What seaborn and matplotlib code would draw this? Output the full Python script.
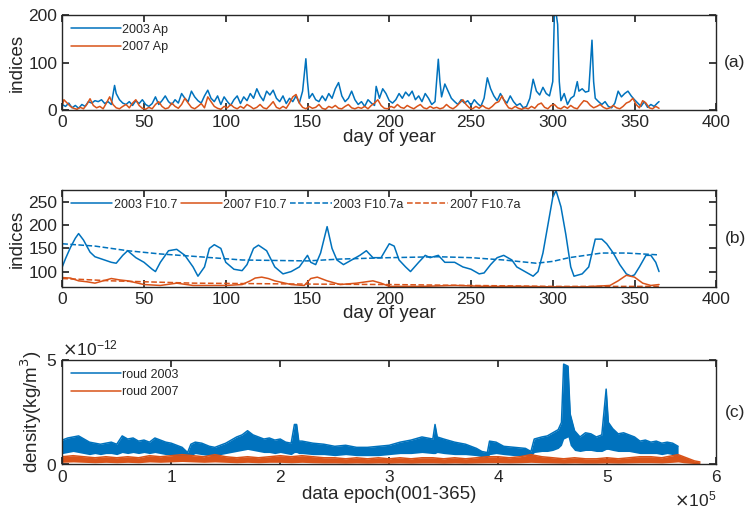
import matplotlib
matplotlib.use("Agg")
import matplotlib.pyplot as plt
import matplotlib.ticker as mticker
import numpy as np
import seaborn as sns

# ============================================================
# DATA
# ============================================================

# (a) daily Ap index
ap03_day = [0, 2, 4, 6, 8, 10, 12, 14, 16, 18, 20, 22, 24, 26, 28, 30, 32, 33, 35, 37, 39, 41, 43, 45,
            47, 49, 51, 53, 55, 57, 59, 61, 63, 65, 67, 69, 71, 73, 75, 77, 79, 81, 83, 85, 87, 89, 91,
            93, 95, 97, 99, 101, 103, 105, 107, 109, 111, 113, 115, 117, 119, 121, 123, 125, 127, 129,
            131, 133, 135, 137, 139, 141, 143, 145, 147, 149, 150, 151, 153, 155, 157, 159, 161, 163,
            165, 167, 169, 171, 173, 175, 177, 179, 181, 183, 185, 187, 189, 191, 192, 194, 196, 198,
            200, 202, 204, 206, 208, 210, 212, 214, 216, 218, 220, 222, 224, 226, 228, 230, 231, 232,
            234, 236, 238, 240, 242, 244, 246, 248, 250, 252, 254, 256, 258, 260, 262, 264, 266, 268,
            270, 272, 274, 276, 278, 280, 282, 284, 286, 288, 290, 292, 294, 296, 298, 300, 301, 302,
            303, 304, 305, 307, 309, 311, 313, 315, 316, 318, 320, 322, 324, 325, 326, 328, 330, 332,
            334, 336, 338, 340, 342, 344, 346, 348, 350, 352, 354, 356, 358, 360, 362, 364, 365]
ap03 = [12, 8, 15, 5, 10, 4, 12, 8, 18, 15, 20, 18, 22, 14, 18, 12, 52, 35, 22, 15, 12, 18, 10, 20,
        14, 22, 12, 8, 14, 28, 12, 20, 30, 18, 12, 22, 15, 35, 25, 18, 40, 28, 20, 15, 30, 42, 25,
        18, 30, 12, 28, 18, 10, 22, 30, 14, 28, 20, 35, 25, 45, 30, 20, 40, 32, 42,
        25, 18, 30, 14, 25, 18, 30, 15, 40, 108, 60, 25, 35, 22, 18, 30, 20, 35,
        25, 45, 58, 30, 18, 25, 40, 22, 12, 18, 8, 22, 15, 10, 50, 25, 45, 35,
        20, 15, 22, 35, 25, 38, 30, 40, 22, 30, 18, 35, 25, 12, 18, 107, 60, 28,
        55, 40, 25, 18, 12, 22, 15, 20, 10, 22, 14, 8, 25, 68, 45, 30, 20, 35,
        22, 15, 30, 18, 10, 14, 5, 8, 25, 65, 40, 32, 48, 35, 30, 60, 200, 205,
        180, 60, 20, 35, 12, 25, 30, 60, 40, 45, 38, 40, 147, 60, 25, 18, 12, 18,
        8, 5, 15, 40, 28, 35, 40, 30, 22, 15, 8, 18, 6, 12, 8, 15, 18]

ap07_day = [0, 1, 3, 5, 7, 9, 11, 13, 15, 17, 19, 21, 23, 25, 27, 29, 31, 33, 35, 37, 39, 41, 43, 45,
            47, 49, 51, 53, 55, 57, 59, 61, 63, 65, 67, 69, 71, 73, 75, 77, 79, 81, 83, 85, 87, 89,
            91, 93, 95, 97, 99, 101, 103, 105, 107, 109, 111, 113, 115, 117, 119, 121, 123, 125, 127,
            129, 131, 133, 135, 137, 139, 141, 143, 145, 147, 149, 151, 153, 155, 157, 159, 161, 163,
            165, 167, 169, 171, 173, 175, 177, 179, 181, 183, 185, 187, 189, 191, 193, 195, 197, 199,
            201, 203, 205, 207, 209, 211, 213, 215, 217, 219, 221, 223, 225, 227, 229, 231, 233, 235,
            237, 239, 241, 243, 245, 247, 249, 251, 253, 255, 257, 259, 261, 263, 265, 267, 269, 271,
            273, 275, 277, 279, 281, 283, 285, 287, 289, 291, 293, 295, 297, 299, 301, 303, 305, 307,
            309, 311, 313, 315, 317, 319, 321, 323, 325, 327, 329, 331, 333, 335, 337, 339, 341, 343,
            345, 347, 349, 351, 353, 355, 357, 359, 361, 363, 365]
ap07 = [10, 22, 15, 8, 4, 2, 6, 3, 12, 24, 10, 5, 8, 3, 15, 28, 12, 5, 3, 8, 12, 5, 15, 22,
        10, 4, 2, 6, 3, 12, 18, 8, 3, 5, 15, 8, 4, 12, 25, 15, 6, 3, 8, 14, 5, 28,
        18, 8, 4, 2, 8, 5, 12, 6, 3, 8, 4, 12, 8, 3, 6, 12, 5, 3, 10,
        18, 6, 3, 8, 4, 15, 28, 33, 15, 6, 3, 8, 4, 6, 12, 4, 2, 8,
        5, 10, 4, 3, 8, 12, 5, 3, 6, 4, 8, 3, 10, 15, 22, 10, 4, 3,
        8, 5, 12, 6, 4, 10, 6, 3, 8, 12, 5, 3, 8, 4, 6, 3, 5, 12,
        6, 3, 8, 15, 22, 12, 5, 3, 8, 4, 10, 5, 3, 8, 15, 18, 30, 15,
        5, 3, 8, 4, 2, 5, 3, 8, 4, 12, 15, 6, 3, 10, 12, 5, 3, 8,
        4, 10, 5, 3, 12, 20, 18, 10, 5, 8, 12, 6, 3, 5, 10, 5, 3, 8,
        15, 18, 25, 12, 5, 20, 15, 5, 3, 8, 4]

# (b) F10.7 daily flux and 81-day average
f03_day = [0, 2, 5, 8, 10, 13, 17, 20, 25, 30, 33, 37, 40, 45, 50, 55, 57, 60, 65, 70, 75, 80, 83,
           87, 90, 93, 97, 100, 105, 110, 113, 117, 120, 125, 130, 135, 140, 145, 150, 152, 155, 158,
           162, 165, 168, 172, 177, 182, 186, 190, 195, 200, 203, 206, 210, 213, 218, 222, 225, 230,
           234, 240, 245, 250, 255, 258, 262, 266, 270, 275, 278, 283, 288, 291, 294, 297, 300, 302,
           305, 308, 311, 313, 318, 322, 326, 330, 333, 337, 341, 345, 348, 350, 353, 357, 360, 363,
           365]
f03 = [110, 128, 152, 172, 182, 168, 142, 132, 126, 120, 118, 135, 145, 130, 120, 105, 100, 120,
       145, 148, 135, 110, 90, 110, 150, 158, 150, 120, 105, 102, 115, 150, 157, 145, 110, 95, 100,
       110, 135, 120, 115, 140, 197, 150, 125, 115, 125, 135, 145, 130, 130, 160, 155, 125, 110, 100,
       120, 135, 130, 135, 120, 120, 110, 105, 95, 97, 115, 130, 135, 125, 110, 100, 90, 100, 140,
       200, 260, 275, 240, 180, 110, 90, 95, 110, 170, 170, 160, 140, 115, 95, 90, 93, 110, 135, 135,
       120, 100]

f03a_day = [0, 20, 40, 60, 80, 110, 150, 170, 200, 230, 250, 270, 290, 300, 310, 320, 330, 345, 365]
f03a = [160, 155, 145, 138, 133, 125, 123, 127, 130, 132, 130, 125, 118, 122, 130, 135, 140, 140, 136]

f07_day = [0, 5, 10, 15, 20, 25, 30, 35, 40, 45, 50, 55, 60, 70, 80, 90, 100, 110, 115, 118, 122,
           126, 130, 140, 148, 152, 156, 162, 170, 180, 190, 195, 200, 220, 240, 260, 280, 300, 320,
           335, 340, 345, 350, 355, 360, 365]
f07 = [87, 86, 80, 78, 75, 80, 85, 82, 80, 76, 72, 71, 70, 75, 70, 70, 70, 72, 80, 86, 88, 85, 80,
       72, 70, 85, 88, 80, 72, 75, 80, 75, 68, 68, 70, 68, 68, 67, 67, 70, 80, 92, 88, 75, 70, 72]

f07a_day = [0, 30, 80, 150, 200, 250, 300, 365]
f07a = [85, 80, 75, 73, 72, 70, 68, 68]

# (c) density band envelopes (epoch in units of 1e5, density in units of 1e-12 kg/m^3)
rho03_epoch = [0.00, 0.05, 0.10, 0.15, 0.20, 0.25, 0.30, 0.35, 0.40, 0.45, 0.50, 0.55, 0.60, 0.65,
               0.70, 0.75, 0.80, 0.85, 0.90, 0.95, 1.00, 1.05, 1.10, 1.15, 1.18, 1.22, 1.28, 1.35,
               1.40, 1.45, 1.50, 1.55, 1.60, 1.65, 1.70, 1.75, 1.80, 1.85, 1.90, 1.95, 2.00, 2.05,
               2.10, 2.13, 2.15, 2.17, 2.20, 2.30, 2.40, 2.50, 2.60, 2.70, 2.80, 2.90, 3.00, 3.10,
               3.20, 3.30, 3.40, 3.42, 3.44, 3.50, 3.60, 3.70, 3.80, 3.85, 3.90, 3.92, 3.98, 4.05,
               4.15, 4.25, 4.30, 4.33, 4.40, 4.45, 4.50, 4.55, 4.58, 4.60, 4.64, 4.66, 4.70, 4.75,
               4.80, 4.85, 4.90, 4.95, 4.99, 5.01, 5.05, 5.10, 5.15, 5.20, 5.25, 5.30, 5.35, 5.40,
               5.45, 5.50, 5.55, 5.60, 5.65]
rho03_hi = [1.15, 1.25, 1.30, 1.35, 1.20, 1.05, 1.00, 0.95, 1.00, 1.05, 0.95, 1.35, 1.20, 1.25,
            1.10, 1.15, 1.05, 1.25, 1.15, 1.05, 1.00, 0.90, 0.80, 0.55, 0.95, 1.05, 1.00, 0.85,
            0.80, 0.90, 1.00, 1.15, 1.30, 1.40, 1.60, 1.40, 1.30, 1.20, 1.25, 1.15, 1.20, 1.05,
            1.00, 1.90, 1.90, 1.10, 1.10, 1.00, 0.95, 0.85, 0.90, 0.80, 0.80, 0.85, 0.90, 1.05,
            1.15, 1.30, 1.20, 1.90, 1.30, 1.20, 1.05, 0.95, 0.75, 0.60, 0.55, 1.10, 1.05, 0.85,
            0.80, 0.75, 0.60, 1.20, 1.30, 1.35, 1.50, 1.65, 2.00, 4.80, 4.70, 2.40, 1.60, 1.30,
            1.50, 1.45, 1.30, 1.40, 3.60, 2.00, 1.70, 1.45, 1.50, 1.40, 1.30, 1.10, 1.15, 1.05,
            1.10, 1.00, 1.05, 1.00, 0.85]
rho03_lo = [0.50, 0.55, 0.60, 0.55, 0.50, 0.45, 0.50, 0.45, 0.50, 0.50, 0.45, 0.55, 0.50, 0.55,
            0.50, 0.55, 0.50, 0.55, 0.50, 0.45, 0.45, 0.40, 0.35, 0.20, 0.40, 0.50, 0.45, 0.40,
            0.40, 0.45, 0.50, 0.55, 0.60, 0.65, 0.70, 0.65, 0.60, 0.55, 0.55, 0.50, 0.55, 0.50,
            0.45, 0.55, 0.55, 0.50, 0.50, 0.45, 0.45, 0.40, 0.45, 0.40, 0.40, 0.40, 0.45, 0.50,
            0.50, 0.55, 0.50, 0.50, 0.55, 0.50, 0.45, 0.45, 0.40, 0.35, 0.30, 0.45, 0.50, 0.45,
            0.40, 0.40, 0.35, 0.55, 0.60, 0.60, 0.65, 0.75, 0.90, 1.20, 1.30, 0.90, 0.65, 0.60,
            0.65, 0.65, 0.60, 0.60, 0.70, 0.70, 0.65, 0.60, 0.60, 0.60, 0.55, 0.50, 0.50, 0.50,
            0.50, 0.45, 0.50, 0.45, 0.40]

rho07_epoch = [0.0, 0.1, 0.2, 0.3, 0.4, 0.5, 0.6, 0.7, 0.8, 0.9, 1.0, 1.1, 1.2, 1.3, 1.4, 1.5, 1.6,
               1.7, 1.8, 1.9, 2.0, 2.1, 2.2, 2.3, 2.4, 2.5, 2.6, 2.7, 2.8, 2.9, 3.0, 3.1, 3.2, 3.3,
               3.4, 3.5, 3.6, 3.7, 3.8, 3.9, 4.0, 4.1, 4.2, 4.3, 4.4, 4.5, 4.6, 4.7, 4.8, 4.9, 5.0,
               5.1, 5.2, 5.3, 5.4, 5.5, 5.6, 5.65, 5.7, 5.75, 5.8, 5.85]
rho07_hi = [0.35, 0.40, 0.35, 0.30, 0.35, 0.30, 0.35, 0.30, 0.40, 0.35, 0.40, 0.45, 0.40, 0.35,
            0.45, 0.35, 0.30, 0.35, 0.30, 0.35, 0.40, 0.35, 0.40, 0.35, 0.30, 0.30, 0.25, 0.30,
            0.25, 0.30, 0.25, 0.30, 0.25, 0.30, 0.30, 0.25, 0.30, 0.25, 0.30, 0.35, 0.35, 0.30,
            0.35, 0.45, 0.35, 0.30, 0.25, 0.30, 0.25, 0.25, 0.30, 0.25, 0.30, 0.35, 0.35, 0.30,
            0.40, 0.45, 0.35, 0.25, 0.15, 0.10]
rho07_lo = [0.08, 0.10, 0.08, 0.06, 0.08, 0.06, 0.08, 0.06, 0.10, 0.08, 0.10, 0.12, 0.10, 0.08,
            0.10, 0.08, 0.06, 0.08, 0.06, 0.08, 0.08, 0.06, 0.08, 0.06, 0.05, 0.05, 0.04, 0.05,
            0.04, 0.05, 0.04, 0.05, 0.04, 0.05, 0.05, 0.04, 0.05, 0.04, 0.05, 0.06, 0.06, 0.05,
            0.06, 0.08, 0.06, 0.05, 0.04, 0.05, 0.04, 0.04, 0.05, 0.04, 0.05, 0.06, 0.06, 0.05,
            0.08, 0.10, 0.06, 0.04, 0.02, 0.02]

# ============================================================
# STYLE
# ============================================================

BLUE = "#0072BD"
ORANGE = "#D95319"
INK = "#262626"
LW = 1.1

sns.set_theme(style="ticks")
plt.rcParams["font.family"] = ["Liberation Sans", "DejaVu Sans"]
plt.rcParams.update({
    "axes.edgecolor": INK,
    "axes.linewidth": 1.0,
    "axes.labelcolor": INK,
    "xtick.color": INK,
    "ytick.color": INK,
    "xtick.direction": "in",
    "ytick.direction": "in",
    "xtick.top": True,
    "ytick.right": True,
    "xtick.major.size": 5,
    "ytick.major.size": 5,
    "xtick.labelsize": 12.5,
    "ytick.labelsize": 12.5,
    "axes.labelsize": 13.5,
})
LEG_FONT = {"family": ["Liberation Sans Narrow", "Liberation Sans"], "size": 9}
LEG_KW = dict(loc="upper left", frameon=False, prop=LEG_FONT,
              handletextpad=0.1, borderaxespad=0.3)

fig = plt.figure(figsize=(7.5, 5.15), dpi=100)
ax_a = fig.add_axes([0.083, 0.786, 0.872, 0.185])
ax_b = fig.add_axes([0.083, 0.443, 0.872, 0.188])
ax_c = fig.add_axes([0.083, 0.099, 0.872, 0.202])

# ---------------- (a) Ap ----------------
sns.lineplot(x=ap03_day, y=ap03, ax=ax_a, color=BLUE, lw=LW, label="2003 Ap")
sns.lineplot(x=ap07_day, y=ap07, ax=ax_a, color=ORANGE, lw=LW, label="2007 Ap")
ax_a.set_xlim(0, 400)
ax_a.set_ylim(0, 200)
ax_a.set_xticks(np.arange(0, 401, 50))
ax_a.set_yticks([0, 100, 200])
ax_a.set_xlabel("day of year", labelpad=-1)
ax_a.set_ylabel("indices", labelpad=2)
ax_a.legend(labelspacing=0.45, handlelength=4.0, **LEG_KW)

# ---------------- (b) F10.7 ----------------
sns.lineplot(x=f03_day, y=f03, ax=ax_b, color=BLUE, lw=LW, label="2003 F10.7")
sns.lineplot(x=f07_day, y=f07, ax=ax_b, color=ORANGE, lw=LW, label="2007 F10.7")
sns.lineplot(x=f03a_day, y=f03a, ax=ax_b, color=BLUE, lw=LW, ls="--", label="2003 F10.7a")
sns.lineplot(x=f07a_day, y=f07a, ax=ax_b, color=ORANGE, lw=LW, ls="--", label="2007 F10.7a")
ax_b.set_xlim(0, 400)
ax_b.set_ylim(67, 276)
ax_b.set_xticks(np.arange(0, 401, 50))
ax_b.set_yticks([100, 150, 200, 250])
ax_b.set_xlabel("day of year", labelpad=-1)
ax_b.set_ylabel("indices", labelpad=2)
ax_b.legend(ncol=4, columnspacing=0.3, handlelength=3.3, **LEG_KW)

# ---------------- (c) density ----------------
e03 = np.array(rho03_epoch) * 1e5
e07 = np.array(rho07_epoch) * 1e5
ax_c.fill_between(e03, np.array(rho03_lo) * 1e-12, np.array(rho03_hi) * 1e-12,
                  color=BLUE, lw=0)
sns.lineplot(x=e03, y=np.array(rho03_hi) * 1e-12, ax=ax_c, color=BLUE, lw=LW, label="roud 2003")
ax_c.fill_between(e07, np.array(rho07_lo) * 1e-12, np.array(rho07_hi) * 1e-12,
                  color=ORANGE, lw=0)
sns.lineplot(x=e07, y=np.array(rho07_hi) * 1e-12, ax=ax_c, color=ORANGE, lw=LW, label="roud 2007")
ax_c.set_xlim(0, 6e5)
ax_c.set_ylim(0, 5e-12)
ax_c.set_xticks(np.arange(0, 6.01e5, 1e5))
ax_c.set_yticks([0, 5e-12])
for axis in (ax_c.xaxis, ax_c.yaxis):
    fmt = mticker.ScalarFormatter(useMathText=True)
    fmt.set_powerlimits((0, 0))
    axis.set_major_formatter(fmt)
ax_c.xaxis.get_offset_text().set_fontsize(12.5)
ax_c.yaxis.get_offset_text().set_fontsize(12.5)
ax_c.set_xlabel("data epoch(001-365)", labelpad=1)
ax_c.set_ylabel("density(kg/m$^3$)", labelpad=2)
ax_c.legend(labelspacing=0.45, handlelength=4.0, **LEG_KW)

# panel tags
for ax, tag in [(ax_a, "(a)"), (ax_b, "(b)"), (ax_c, "(c)")]:
    pos = ax.get_position()
    fig.text(0.98, (pos.y0 + pos.y1) / 2, tag, ha="center", va="center",
             fontsize=12.5, color=INK)

fig.savefig("out.png", dpi=100)
